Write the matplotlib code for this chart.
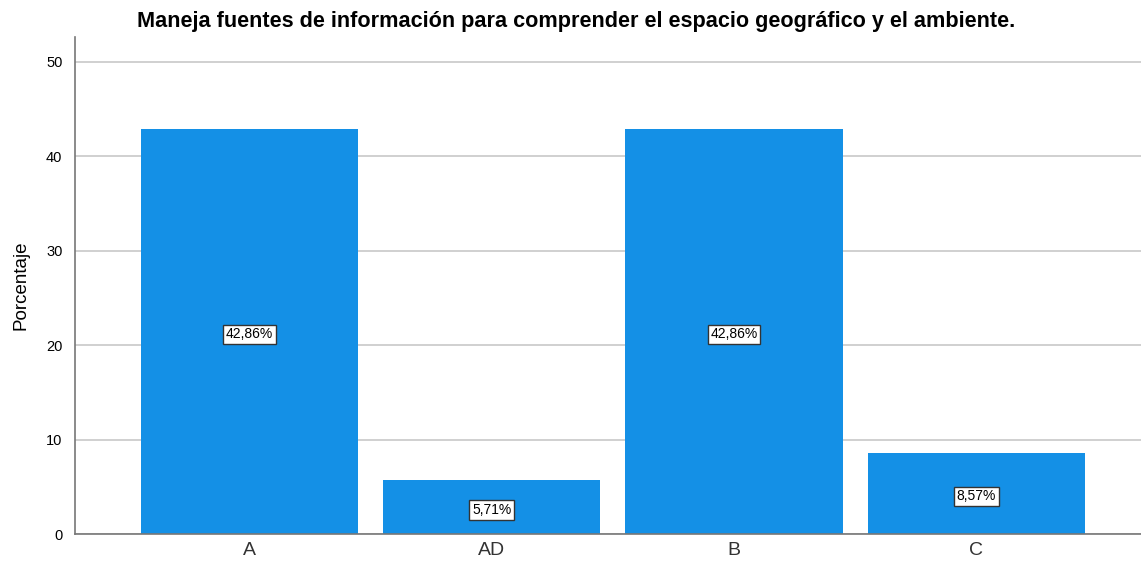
import matplotlib
matplotlib.use('Agg')
import matplotlib.pyplot as plt

categories = ['A', 'AD', 'B', 'C']
percentages = [42.86, 5.71, 42.86, 8.57]
value_labels = ['42,86%', '5,71%', '42,86%', '8,57%']

plt.rcParams['font.family'] = ['Liberation Sans', 'DejaVu Sans']

fig = plt.figure(figsize=(11.41, 5.63), dpi=100)
ax = fig.add_axes([0.0657, 0.0515, 0.9343, 0.8825])

x = range(len(categories))
bars = ax.bar(x, percentages, width=0.897, color='#1490E6', zorder=2)

for i, bar in enumerate(bars):
    h = bar.get_height()
    ax.text(bar.get_x() + bar.get_width() / 2, h / 2 - 0.3, value_labels[i],
            ha='center', va='center', fontsize=10, zorder=3,
            bbox=dict(boxstyle='square,pad=0.2', facecolor='white', edgecolor='#333333', linewidth=1))

ax.set_xlim(-0.72, 3.68)
ax.set_ylim(0, 52.6)
ax.set_yticks([0, 10, 20, 30, 40, 50])
ax.set_xticks(list(x))
ax.set_xticklabels(categories, fontsize=14)
ax.tick_params(axis='y', labelsize=10.5, length=0, pad=9)
ax.tick_params(axis='x', length=0, pad=6, colors='#333333')
ax.yaxis.grid(True, color='#c8c8c8', linewidth=1.2, zorder=0)

for side in ['top', 'right']:
    ax.spines[side].set_visible(False)
for side in ['left', 'bottom']:
    ax.spines[side].set_color('#777777')
    ax.spines[side].set_linewidth(1.2)

ax.set_ylabel('Porcentaje', fontsize=13.5, labelpad=12)
fig.text(0.505, 0.962, 'Maneja fuentes de información para comprender el espacio geográfico y el ambiente.',
         ha='center', va='center', fontsize=15.6, fontweight='bold')

fig.savefig('out.png', dpi=100)
